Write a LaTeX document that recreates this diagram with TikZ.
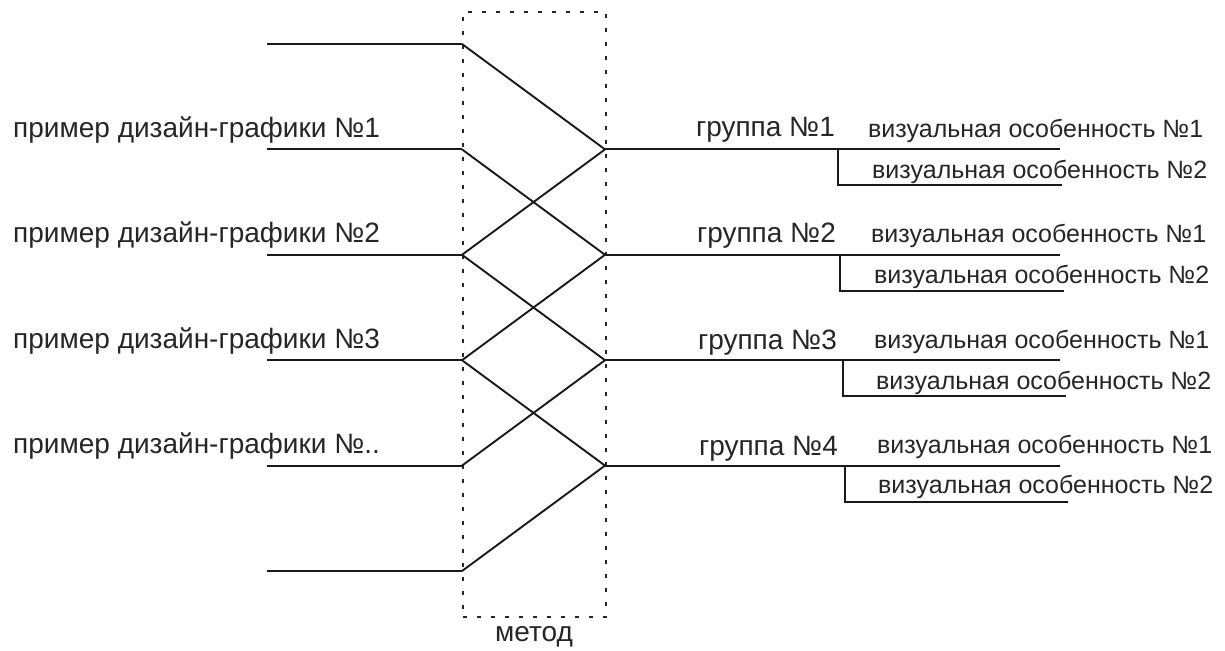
\documentclass[tikz,border=0pt]{standalone}
\usepackage{fontspec}
\setmainfont{Liberation Sans}
\begin{document}
\begin{tikzpicture}[x=1pt,y=-1pt,
  wire/.style={line width=1.9pt, draw=black!90},
  dotbox/.style={draw=black!85, line width=1.8pt, dash pattern=on 4pt off 10pt},
  lbl/.style={inner sep=0pt, text=black!85, font=\fontsize{28}{30}\selectfont},
  feat/.style={inner sep=0pt, text=black!85, font=\fontsize{25}{27}\selectfont}]
\useasboundingbox (0,0) rectangle (1225,650);

% dotted method box
\node[dotbox, minimum width=143pt, minimum height=605pt, inner sep=0pt, anchor=north west] (box) at (462,11) {};
\node[lbl, anchor=base] (method) at (534,641) {метод};

% left rows
\coordinate (s0) at (267,44);    \coordinate (a0) at (462,44);
\coordinate (s1) at (267,149.4); \coordinate (a1) at (462,149.4);
\coordinate (s2) at (267,254.8); \coordinate (a2) at (462,254.8);
\coordinate (s3) at (267,360.2); \coordinate (a3) at (462,360.2);
\coordinate (s4) at (267,465.6); \coordinate (a4) at (462,465.6);
\coordinate (s5) at (267,571);   \coordinate (a5) at (462,571);

\node[lbl, anchor=base west] (p1) at (13,137.4) {пример дизайн-графики №1};
\node[lbl, anchor=base west] (p2) at (13,242.8) {пример дизайн-графики №2};
\node[lbl, anchor=base west] (p3) at (13,348.2) {пример дизайн-графики №3};
\node[lbl, anchor=base west] (p4) at (13,453.6) {пример дизайн-графики №..};

\foreach \i in {0,...,5} { \draw[wire] (s\i) -- (a\i); }

% junctions
\coordinate (j1) at (605,149.4);
\coordinate (j2) at (605,254.8);
\coordinate (j3) at (605,360.2);
\coordinate (j4) at (605,465.6);

\draw[wire] (a0) -- (j1);
\draw[wire] (a1) -- (j2);
\draw[wire] (a2) -- (j1);
\draw[wire] (a2) -- (j3);
\draw[wire] (a3) -- (j2);
\draw[wire] (a3) -- (j4);
\draw[wire] (a4) -- (j3);
\draw[wire] (a5) -- (j4);

% right groups
\coordinate (e1) at (1060,149.4); \coordinate (b1) at (838,149.4);
\coordinate (c1) at (838,185.4);  \coordinate (d1) at (1062,185.4);
\coordinate (e2) at (1060,254.8); \coordinate (b2) at (840,254.8);
\coordinate (c2) at (840,290.8);  \coordinate (d2) at (1064,290.8);
\coordinate (e3) at (1060,360.2); \coordinate (b3) at (843,360.2);
\coordinate (c3) at (843,396.2);  \coordinate (d3) at (1066,396.2);
\coordinate (e4) at (1060,465.6); \coordinate (b4) at (845,465.6);
\coordinate (c4) at (845,501.6);  \coordinate (d4) at (1068,501.6);

\foreach \i in {1,...,4} {
  \draw[wire] (j\i) -- (e\i);
  \draw[wire] (b\i) -- (c\i) -- (d\i);
}

\node[lbl, anchor=base east] (g1) at (835,136.4) {группа №1};
\node[lbl, anchor=base east] (g2) at (836,242.8) {группа №2};
\node[lbl, anchor=base east] (g3) at (837,349.2) {группа №3};
\node[lbl, anchor=base east] (g4) at (838,455.6) {группа №4};

\node[feat, anchor=base west] (f11) at (868,137.4) {визуальная особенность №1};
\node[feat, anchor=base west] (f12) at (872,178.4) {визуальная особенность №2};
\node[feat, anchor=base west] (f21) at (871,242.8) {визуальная особенность №1};
\node[feat, anchor=base west] (f22) at (874,283.8) {визуальная особенность №2};
\node[feat, anchor=base west] (f31) at (874,348.2) {визуальная особенность №1};
\node[feat, anchor=base west] (f32) at (876,389.2) {визуальная особенность №2};
\node[feat, anchor=base west] (f41) at (877,453.6) {визуальная особенность №1};
\node[feat, anchor=base west] (f42) at (878,493.6) {визуальная особенность №2};
\end{tikzpicture}
\end{document}
